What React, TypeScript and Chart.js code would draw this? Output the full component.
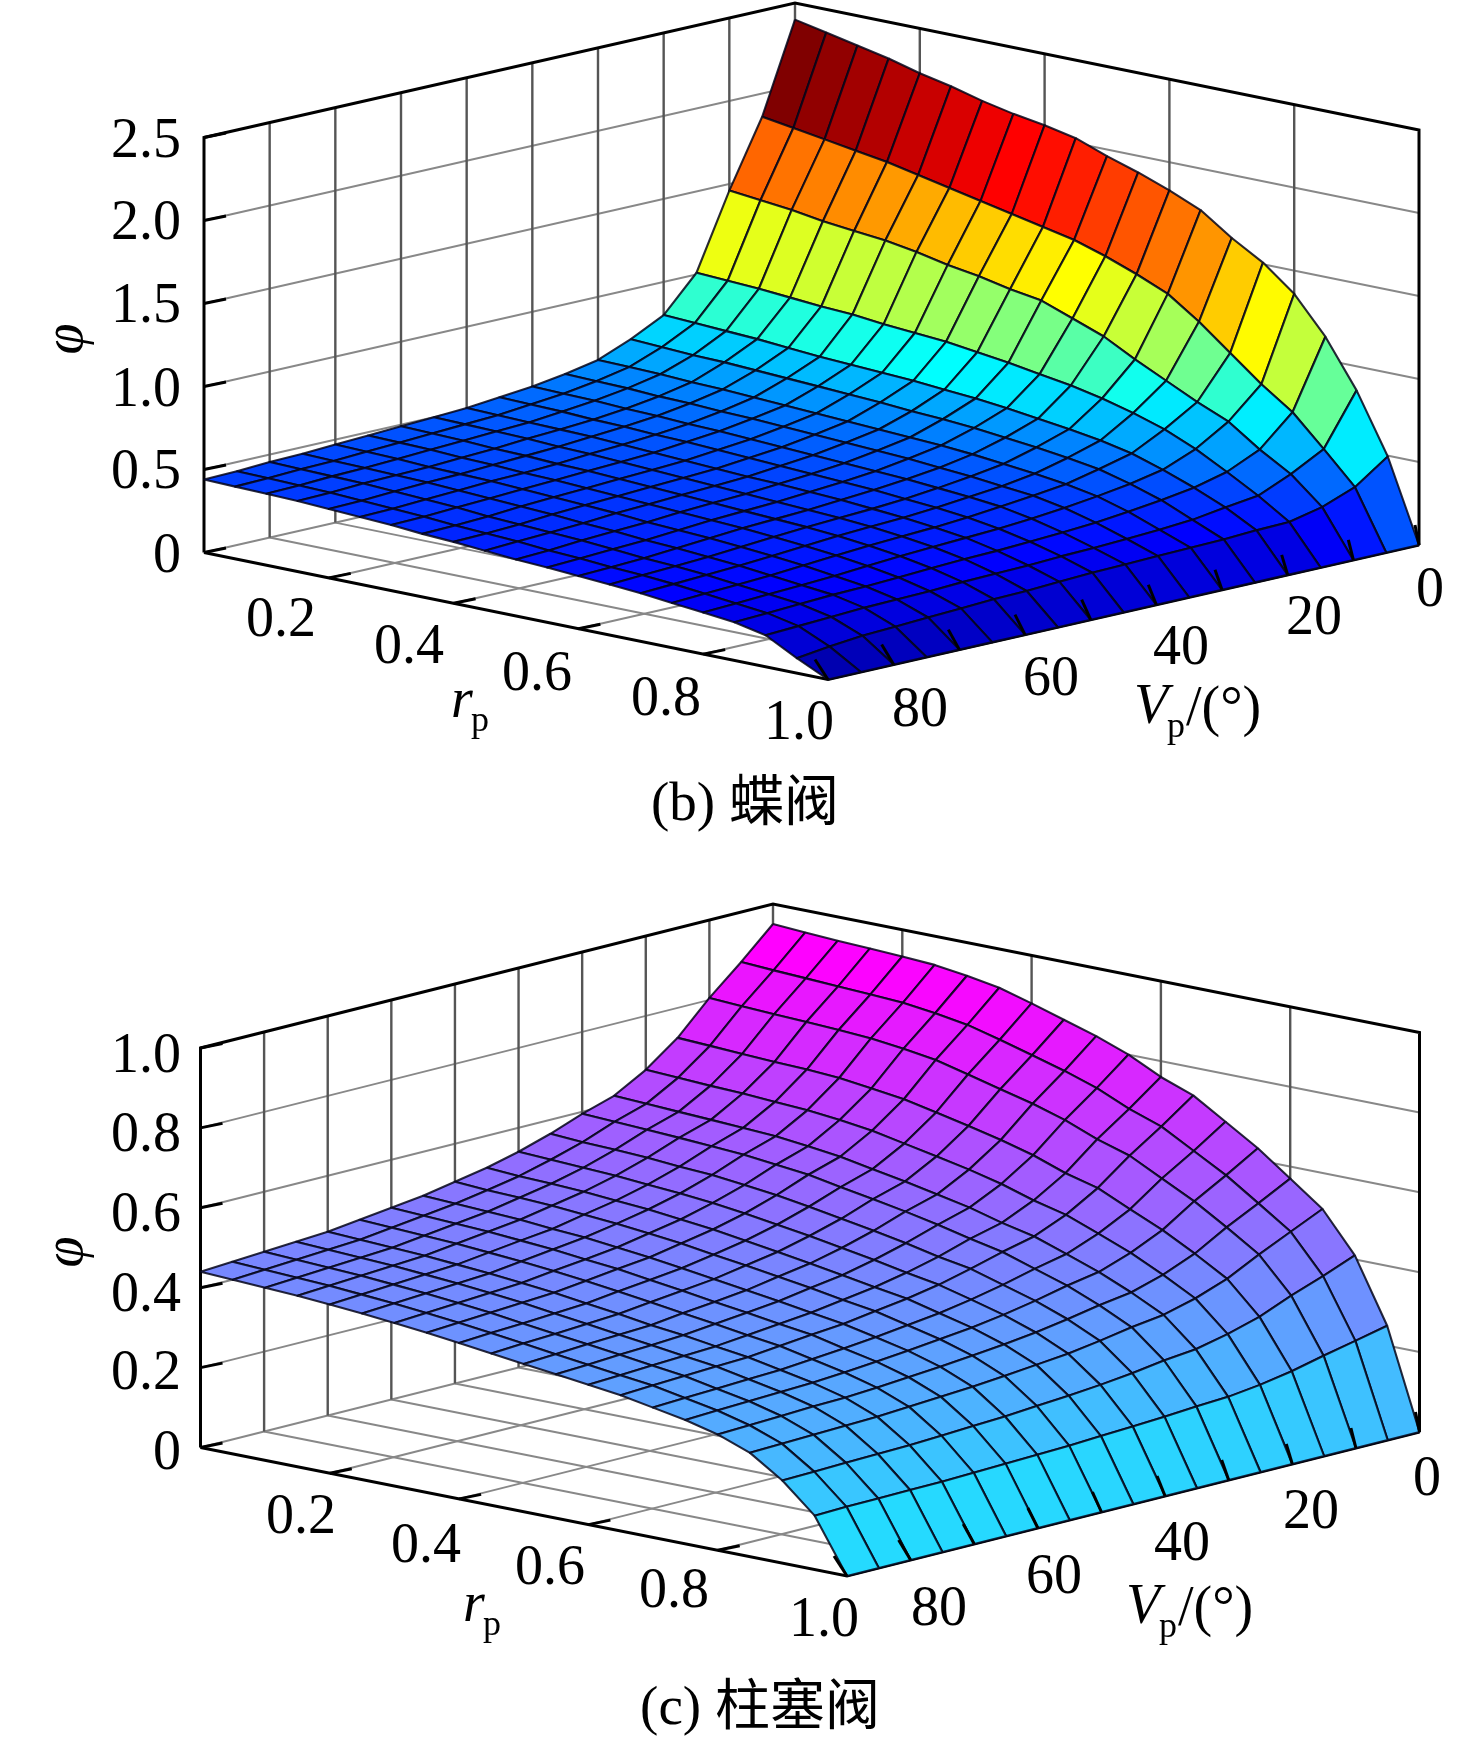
import React, { useEffect, useRef } from "react";
import { Chart, registerables } from "chart.js";

Chart.register(...registerables);

const rGrid = [0, 0.05, 0.1, 0.15, 0.2, 0.25, 0.3, 0.35, 0.4, 0.45, 0.5, 0.55, 0.6, 0.65, 0.7, 0.75, 0.8, 0.85, 0.9, 0.95, 1];
const vGrid = [0, 5, 10, 15, 20, 25, 30, 35, 40, 45, 50, 55, 60, 65, 70, 75, 80, 85, 90];

const rTicks = [0.2, 0.4, 0.6, 0.8];
const vTicks = [10, 20, 30, 40, 50, 60, 70, 80];
const vTickMarks = [0, 10, 20, 30, 40, 50, 60, 70, 80, 90];

const butterflyPhiTicks = [0, 0.5, 1.0, 1.5, 2.0, 2.5];
const plungerPhiTicks = [0, 0.2, 0.4, 0.6, 0.8, 1.0];

// rows: V = 0..90, columns: r = 0..1
const butterflyPhi = [
  [2.40, 2.36, 2.32, 2.28, 2.23, 2.19, 2.14, 2.10, 2.07, 2.03, 1.96, 1.90, 1.83, 1.75, 1.62, 1.51, 1.36, 1.14, 0.855, 0.495, 0],
  [1.86, 1.83, 1.80, 1.77, 1.74, 1.70, 1.66, 1.62, 1.58, 1.54, 1.50, 1.44, 1.37, 1.29, 1.16, 1.01, 0.86, 0.73, 0.546, 0.355, 0],
  [1.46, 1.44, 1.42, 1.39, 1.37, 1.35, 1.32, 1.28, 1.25, 1.21, 1.18, 1.11, 1.04, 0.94, 0.85, 0.76, 0.68, 0.55, 0.44, 0.28, 0],
  [1.01, 1.00, 0.99, 0.975, 0.96, 0.95, 0.93, 0.915, 0.90, 0.875, 0.85, 0.82, 0.79, 0.75, 0.70, 0.64, 0.56, 0.46, 0.355, 0.235, 0],
  [0.80, 0.79, 0.78, 0.77, 0.755, 0.74, 0.73, 0.72, 0.71, 0.695, 0.68, 0.66, 0.635, 0.61, 0.58, 0.54, 0.48, 0.41, 0.33, 0.23, 0],
  [0.70, 0.69, 0.68, 0.675, 0.665, 0.655, 0.645, 0.635, 0.625, 0.61, 0.60, 0.585, 0.565, 0.545, 0.52, 0.49, 0.44, 0.38, 0.30, 0.22, 0],
  [0.62, 0.615, 0.61, 0.60, 0.595, 0.585, 0.575, 0.565, 0.555, 0.545, 0.535, 0.525, 0.51, 0.49, 0.47, 0.445, 0.41, 0.355, 0.285, 0.215, 0],
  [0.58, 0.575, 0.57, 0.56, 0.555, 0.545, 0.54, 0.53, 0.52, 0.51, 0.50, 0.49, 0.475, 0.46, 0.44, 0.42, 0.385, 0.335, 0.275, 0.21, 0],
  [0.55, 0.545, 0.54, 0.53, 0.525, 0.515, 0.51, 0.50, 0.49, 0.48, 0.47, 0.46, 0.45, 0.435, 0.42, 0.40, 0.365, 0.32, 0.265, 0.205, 0],
  [0.53, 0.525, 0.52, 0.51, 0.505, 0.495, 0.49, 0.48, 0.47, 0.46, 0.45, 0.44, 0.43, 0.415, 0.40, 0.38, 0.35, 0.31, 0.26, 0.20, 0],
  [0.51, 0.505, 0.50, 0.495, 0.49, 0.48, 0.47, 0.46, 0.45, 0.44, 0.435, 0.425, 0.415, 0.40, 0.385, 0.365, 0.34, 0.30, 0.25, 0.19, 0],
  [0.50, 0.495, 0.49, 0.485, 0.475, 0.47, 0.46, 0.45, 0.44, 0.43, 0.42, 0.41, 0.40, 0.39, 0.375, 0.355, 0.33, 0.295, 0.245, 0.18, 0],
  [0.49, 0.485, 0.48, 0.47, 0.465, 0.455, 0.45, 0.44, 0.43, 0.42, 0.41, 0.40, 0.39, 0.38, 0.365, 0.345, 0.32, 0.285, 0.24, 0.175, 0],
  [0.48, 0.475, 0.47, 0.46, 0.455, 0.445, 0.44, 0.43, 0.42, 0.41, 0.40, 0.39, 0.38, 0.365, 0.35, 0.33, 0.305, 0.275, 0.23, 0.165, 0],
  [0.47, 0.465, 0.46, 0.45, 0.445, 0.44, 0.43, 0.42, 0.41, 0.40, 0.385, 0.375, 0.365, 0.35, 0.335, 0.315, 0.29, 0.265, 0.225, 0.155, 0],
  [0.46, 0.455, 0.45, 0.445, 0.44, 0.43, 0.42, 0.41, 0.40, 0.385, 0.375, 0.36, 0.35, 0.335, 0.32, 0.30, 0.28, 0.26, 0.22, 0.145, 0],
  [0.455, 0.45, 0.445, 0.44, 0.43, 0.42, 0.41, 0.395, 0.385, 0.375, 0.365, 0.35, 0.335, 0.325, 0.31, 0.29, 0.27, 0.25, 0.21, 0.135, 0],
  [0.445, 0.44, 0.435, 0.43, 0.42, 0.41, 0.40, 0.385, 0.375, 0.365, 0.35, 0.34, 0.325, 0.315, 0.30, 0.28, 0.26, 0.24, 0.20, 0.115, 0],
  [0.44, 0.435, 0.43, 0.425, 0.415, 0.405, 0.395, 0.38, 0.37, 0.355, 0.34, 0.33, 0.317, 0.305, 0.29, 0.27, 0.25, 0.23, 0.19, 0.09, 0],
];

const plungerPhi = [
  [0.95, 0.945, 0.94, 0.937, 0.933, 0.928, 0.917, 0.903, 0.88, 0.855, 0.83, 0.80, 0.76, 0.73, 0.68, 0.63, 0.57, 0.51, 0.41, 0.25, 0],
  [0.875, 0.87, 0.866, 0.862, 0.858, 0.853, 0.843, 0.83, 0.809, 0.786, 0.763, 0.736, 0.70, 0.672, 0.627, 0.582, 0.528, 0.473, 0.378, 0.232, 0],
  [0.805, 0.80, 0.796, 0.793, 0.789, 0.784, 0.774, 0.762, 0.742, 0.721, 0.701, 0.676, 0.644, 0.619, 0.578, 0.537, 0.488, 0.436, 0.349, 0.215, 0],
  [0.725, 0.721, 0.717, 0.713, 0.71, 0.705, 0.695, 0.684, 0.667, 0.649, 0.63, 0.608, 0.579, 0.558, 0.521, 0.485, 0.442, 0.395, 0.316, 0.196, 0],
  [0.665, 0.661, 0.657, 0.654, 0.649, 0.644, 0.636, 0.625, 0.609, 0.593, 0.576, 0.556, 0.531, 0.511, 0.48, 0.448, 0.409, 0.366, 0.293, 0.182, 0],
  [0.62, 0.616, 0.612, 0.608, 0.604, 0.599, 0.59, 0.58, 0.565, 0.55, 0.534, 0.517, 0.495, 0.477, 0.449, 0.42, 0.385, 0.345, 0.275, 0.172, 0],
  [0.595, 0.591, 0.587, 0.583, 0.578, 0.573, 0.564, 0.555, 0.54, 0.526, 0.511, 0.494, 0.475, 0.458, 0.432, 0.406, 0.373, 0.334, 0.267, 0.168, 0],
  [0.565, 0.56, 0.557, 0.553, 0.547, 0.542, 0.533, 0.524, 0.511, 0.497, 0.483, 0.468, 0.45, 0.436, 0.412, 0.388, 0.358, 0.32, 0.255, 0.162, 0],
  [0.54, 0.536, 0.532, 0.528, 0.522, 0.516, 0.508, 0.498, 0.486, 0.474, 0.46, 0.446, 0.43, 0.416, 0.395, 0.373, 0.345, 0.308, 0.246, 0.158, 0],
  [0.52, 0.515, 0.512, 0.508, 0.502, 0.496, 0.487, 0.478, 0.466, 0.454, 0.441, 0.428, 0.414, 0.401, 0.381, 0.361, 0.335, 0.30, 0.239, 0.154, 0],
  [0.505, 0.50, 0.497, 0.493, 0.487, 0.48, 0.472, 0.463, 0.451, 0.44, 0.428, 0.416, 0.402, 0.39, 0.371, 0.352, 0.327, 0.292, 0.233, 0.15, 0],
  [0.49, 0.486, 0.482, 0.478, 0.471, 0.466, 0.457, 0.448, 0.437, 0.426, 0.414, 0.403, 0.39, 0.378, 0.361, 0.343, 0.319, 0.285, 0.227, 0.147, 0],
  [0.48, 0.476, 0.472, 0.468, 0.462, 0.456, 0.447, 0.439, 0.428, 0.417, 0.405, 0.394, 0.382, 0.371, 0.353, 0.336, 0.313, 0.28, 0.223, 0.145, 0],
  [0.47, 0.466, 0.462, 0.458, 0.452, 0.446, 0.438, 0.429, 0.419, 0.408, 0.397, 0.386, 0.374, 0.363, 0.346, 0.329, 0.307, 0.275, 0.219, 0.142, 0],
  [0.46, 0.456, 0.452, 0.448, 0.442, 0.436, 0.428, 0.42, 0.409, 0.399, 0.387, 0.378, 0.366, 0.355, 0.339, 0.323, 0.302, 0.27, 0.215, 0.14, 0],
  [0.455, 0.451, 0.447, 0.443, 0.437, 0.431, 0.423, 0.415, 0.404, 0.394, 0.383, 0.373, 0.362, 0.352, 0.336, 0.32, 0.30, 0.268, 0.213, 0.139, 0],
  [0.45, 0.446, 0.442, 0.438, 0.432, 0.426, 0.418, 0.41, 0.399, 0.389, 0.379, 0.369, 0.358, 0.348, 0.332, 0.317, 0.296, 0.265, 0.211, 0.138, 0],
  [0.445, 0.441, 0.437, 0.433, 0.427, 0.421, 0.413, 0.405, 0.395, 0.385, 0.374, 0.364, 0.354, 0.344, 0.329, 0.314, 0.293, 0.263, 0.209, 0.137, 0],
  [0.44, 0.436, 0.432, 0.428, 0.422, 0.416, 0.408, 0.40, 0.39, 0.38, 0.37, 0.36, 0.35, 0.34, 0.325, 0.31, 0.29, 0.26, 0.207, 0.135, 0],
];

type Pt = { x: number; y: number };
type Label = { t: string; x: number; y: number };

type Panel = {
  yMin: number; yMax: number;
  A: Pt; B: Pt; C: Pt; D: Pt; height: number; phiMax: number;
  phi: number[][]; phiTicks: number[];
  color: (n: number) => string;
  phiLabels: Label[]; rLabels: Label[]; vLabels: Label[];
  phiSym: Pt; rSym: Pt; vSym: Pt; caption: Label;
};

const clamp = (v: number) => Math.max(0, Math.min(1, v));
function jet(n: number) {
  const f = (c: number) => Math.round(255 * clamp(1.5 - Math.abs(4 * n - c)));
  return `rgb(${f(3)},${f(2)},${f(1)})`;
}
function cool(n: number) {
  return `rgb(${Math.round(255 * n)},${Math.round(255 * (1 - n))},255)`;
}

const panels: Panel[] = [
  {
    yMin: 0, yMax: 872,
    A: { x: 204, y: 552.5 }, B: { x: 795, y: 418 }, C: { x: 1418, y: 545 }, D: { x: 828, y: 679.5 },
    height: 415, phiMax: 2.5, phi: butterflyPhi, phiTicks: butterflyPhiTicks, color: jet,
    phiLabels: [
      { t: "0", x: 181, y: 553 }, { t: "0.5", x: 181, y: 469 }, { t: "1.0", x: 181, y: 387 },
      { t: "1.5", x: 181, y: 303 }, { t: "2.0", x: 181, y: 220 }, { t: "2.5", x: 181, y: 138 },
    ],
    rLabels: [
      { t: "0.2", x: 281, y: 617 }, { t: "0.4", x: 409, y: 644 }, { t: "0.6", x: 537, y: 671 },
      { t: "0.8", x: 666, y: 696 }, { t: "1.0", x: 799, y: 720 },
    ],
    vLabels: [
      { t: "0", x: 1430, y: 587 }, { t: "20", x: 1314, y: 615 }, { t: "40", x: 1181, y: 645 },
      { t: "60", x: 1051, y: 676 }, { t: "80", x: 920, y: 707 },
    ],
    phiSym: { x: 70, y: 339 }, rSym: { x: 462, y: 700 }, vSym: { x: 1153, y: 704 },
    caption: { t: "(b) 蝶阀", x: 745, y: 802 },
  },
  {
    yMin: 872, yMax: 1744,
    A: { x: 200.5, y: 1447.5 }, B: { x: 773, y: 1303.5 }, C: { x: 1419, y: 1432 }, D: { x: 847, y: 1576 },
    height: 399.5, phiMax: 1.0, phi: plungerPhi, phiTicks: plungerPhiTicks, color: cool,
    phiLabels: [
      { t: "0", x: 181, y: 1450 }, { t: "0.2", x: 181, y: 1370 }, { t: "0.4", x: 181, y: 1292 },
      { t: "0.6", x: 181, y: 1212 }, { t: "0.8", x: 181, y: 1132 }, { t: "1.0", x: 181, y: 1053 },
    ],
    rLabels: [
      { t: "0.2", x: 301, y: 1514 }, { t: "0.4", x: 426, y: 1543 }, { t: "0.6", x: 550, y: 1565 },
      { t: "0.8", x: 674, y: 1588 }, { t: "1.0", x: 824, y: 1617 },
    ],
    vLabels: [
      { t: "0", x: 1427, y: 1476 }, { t: "20", x: 1311, y: 1509 }, { t: "40", x: 1182, y: 1541 },
      { t: "60", x: 1054, y: 1574 }, { t: "80", x: 939, y: 1606 },
    ],
    phiSym: { x: 70, y: 1252 }, rSym: { x: 474, y: 1604 }, vSym: { x: 1145, y: 1604 },
    caption: { t: "(c) 柱塞阀", x: 760, y: 1706 },
  },
];

const FONT_SIZE = 56;
const SERIF = '"Liberation Serif", "Times New Roman", serif';

function project(p: Panel, r: number, v: number, phi: number): Pt {
  const u = 1 - v / 90;
  return {
    x: p.A.x + r * (p.D.x - p.A.x) + u * (p.B.x - p.A.x),
    y: p.A.y + r * (p.D.y - p.A.y) + u * (p.B.y - p.A.y) - (phi / p.phiMax) * p.height,
  };
}

function lineSet(points: Pt[], color: string, width: number) {
  return {
    data: points, showLine: true, pointRadius: 0, pointHoverRadius: 0,
    borderColor: color, borderWidth: width, fill: false, tension: 0,
    borderCapStyle: "butt", borderJoinStyle: "miter", clip: false,
  };
}

function buildDatasets(p: Panel) {
  const top: any[] = [];
  const surface: any[] = [];
  const back: any[] = [];
  const frame = "#000";
  const wallV = "#555";
  const wallH = "#888";

  // frame and ticks lie above the grid, under the surface
  back.push(lineSet([project(p, 0, 90, 0), project(p, 0, 90, p.phiMax), project(p, 0, 0, p.phiMax), project(p, 1, 0, p.phiMax), project(p, 1, 0, 0)], frame, 3));
  back.push(lineSet([project(p, 0, 90, 0), project(p, 1, 90, 0), project(p, 1, 0, 0)], frame, 3));
  p.phiTicks.forEach((t) => {
    const a = project(p, 0, 90, t);
    back.push(lineSet([a, { x: a.x + 22, y: a.y - 4.5 }], frame, 3));
  });
  rTicks.forEach((r) => {
    const a = project(p, r, 90, 0);
    back.push(lineSet([a, { x: a.x + 22, y: a.y - 4.5 }], frame, 3));
  });
  // grid
  vTicks.forEach((v) => {
    back.push(lineSet([project(p, 0, v, 0), project(p, 0, v, p.phiMax)], wallV, 2.4));
    back.push(lineSet([project(p, 0, v, 0), project(p, 1, v, 0)], wallH, 2));
  });
  back.push(lineSet([project(p, 0, 0, 0), project(p, 0, 0, p.phiMax)], wallV, 2.4));
  rTicks.forEach((r) => {
    back.push(lineSet([project(p, r, 0, 0), project(p, r, 0, p.phiMax)], wallV, 2.4));
    back.push(lineSet([project(p, r, 0, 0), project(p, r, 90, 0)], wallH, 2));
  });
  p.phiTicks.forEach((t) => {
    if (t === p.phiMax) return;
    back.push(lineSet([project(p, 0, 90, t), project(p, 0, 0, t), project(p, 1, 0, t)], wallH, 2));
  });

  // surface cells: flat colour taken from the cell's first corner
  const zMax = Math.max(...p.phi.map((row) => Math.max(...row)));
  for (let j = vGrid.length - 2; j >= 0; j--) {
    for (let i = rGrid.length - 2; i >= 0; i--) {
      const c = [
        project(p, rGrid[i], vGrid[j], p.phi[j][i]),
        project(p, rGrid[i + 1], vGrid[j], p.phi[j][i + 1]),
        project(p, rGrid[i + 1], vGrid[j + 1], p.phi[j + 1][i + 1]),
        project(p, rGrid[i], vGrid[j + 1], p.phi[j + 1][i]),
      ];
      surface.push({
        data: [...c, c[0]], showLine: true, pointRadius: 0, pointHoverRadius: 0,
        borderColor: "rgba(5,5,25,0.85)", borderWidth: 2.1, backgroundColor: p.color(p.phi[j][i] / zMax),
        fill: "shape", tension: 0, clip: false, borderJoinStyle: "round",
      });
    }
  }

  vTickMarks.forEach((v) => {
    const a = project(p, 1, v, 0);
    const dx = 4 + (9 * v) / 90;
    top.push(lineSet([a, { x: a.x - dx, y: a.y - 20 }], frame, 3));
  });
  return [...top, ...surface, ...back];
}

function labelPlugin(p: Panel) {
  return {
    id: "panelText",
    afterDatasetsDraw(chart: any) {
      const { ctx, scales } = chart;
      const X = (v: number) => scales.x.getPixelForValue(v);
      const Y = (v: number) => scales.y.getPixelForValue(v);
      const cap = 0.338 * FONT_SIZE;
      ctx.save();
      ctx.fillStyle = "#000";
      ctx.textBaseline = "alphabetic";
      ctx.font = `${FONT_SIZE}px ${SERIF}`;
      ctx.textAlign = "right";
      p.phiLabels.forEach((l) => ctx.fillText(l.t, X(l.x), Y(l.y) + cap));
      ctx.textAlign = "center";
      [...p.rLabels, ...p.vLabels].forEach((l) => ctx.fillText(l.t, X(l.x), Y(l.y) + cap));

      // phi axis title
      ctx.save();
      ctx.translate(X(p.phiSym.x), Y(p.phiSym.y));
      ctx.rotate(-Math.PI / 2);
      ctx.font = `italic ${FONT_SIZE}px ${SERIF}`;
      ctx.textAlign = "center";
      ctx.fillText("φ", 0, 12);
      ctx.restore();

      // r_p
      ctx.textAlign = "left";
      ctx.font = `italic ${FONT_SIZE}px ${SERIF}`;
      ctx.fillText("r", X(p.rSym.x) - 11, Y(p.rSym.y) + cap - 2);
      ctx.font = `36px ${SERIF}`;
      ctx.fillText("p", X(p.rSym.x) + 9, Y(p.rSym.y) + cap + 12);

      // V_p/(°)
      ctx.font = `italic ${FONT_SIZE}px ${SERIF}`;
      ctx.fillText("V", X(p.vSym.x) - 19, Y(p.vSym.y) + cap);
      ctx.font = `36px ${SERIF}`;
      ctx.fillText("p", X(p.vSym.x) + 14, Y(p.vSym.y) + cap + 14);
      ctx.font = `${FONT_SIZE}px ${SERIF}`;
      ctx.fillText("/(°)", X(p.vSym.x) + 33, Y(p.vSym.y) + cap + 2);

      // caption
      ctx.textAlign = "center";
      ctx.font = `55px ${SERIF}, "Noto Sans CJK SC"`;
      ctx.fillText(p.caption.t, X(p.caption.x), Y(p.caption.y) + 18);
      ctx.restore();
    },
  };
}

function PanelChart({ panel }: { panel: Panel }) {
  const ref = useRef<HTMLCanvasElement>(null);
  useEffect(() => {
    const chart = new Chart(ref.current as HTMLCanvasElement, {
      type: "scatter",
      data: { datasets: buildDatasets(panel) as any },
      plugins: [labelPlugin(panel)],
      options: {
        animation: false,
        responsive: false,
        devicePixelRatio: 1,
        events: [],
        layout: { padding: 0 },
        plugins: { legend: { display: false }, tooltip: { enabled: false }, title: { display: false } },
        scales: {
          x: { type: "linear", display: false, min: 0, max: 1476 },
          y: { type: "linear", display: false, min: panel.yMin, max: panel.yMax, reverse: true },
        },
      } as any,
    });
    return () => chart.destroy();
  }, [panel]);
  return <canvas ref={ref} width={1476} height={panel.yMax - panel.yMin} style={{ display: "block" }} />;
}

export default function App() {
  return (
    <div style={{ position: "absolute", left: 0, top: 0, width: 1476, height: 1744, background: "#fff" }}>
      {panels.map((p) => (
        <PanelChart key={p.yMin} panel={p} />
      ))}
    </div>
  );
}
